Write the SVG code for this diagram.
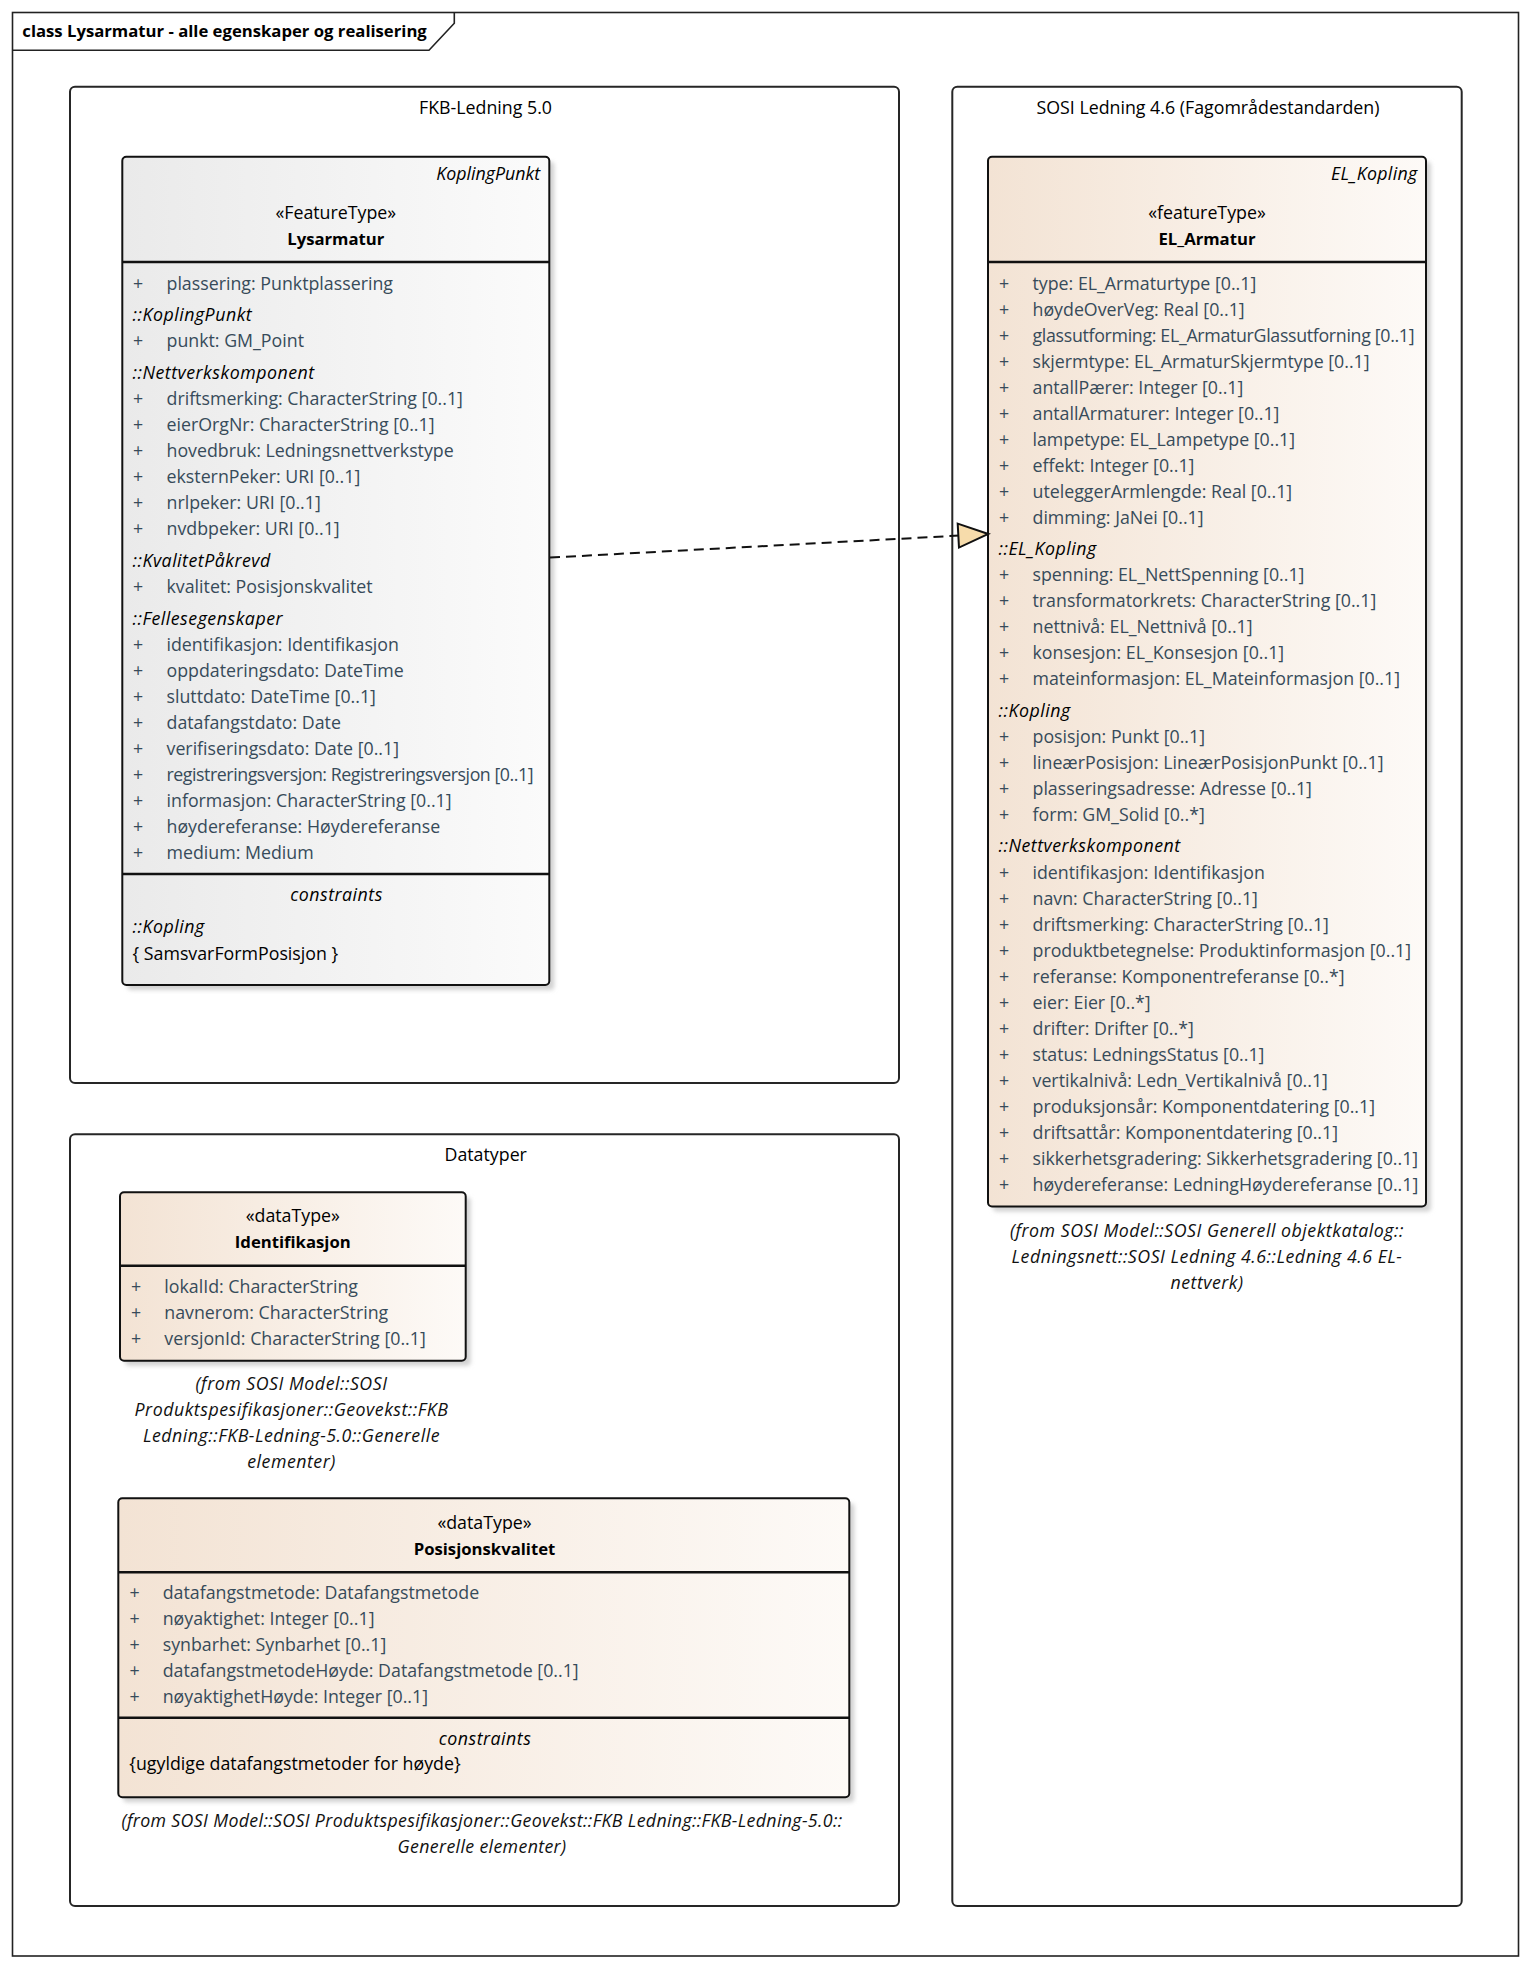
<svg xmlns="http://www.w3.org/2000/svg" width="1532" height="1968" viewBox="0 0 1532 1968">
<defs>
<style>
text{font-family:"Open Sans","Noto Sans","DejaVu Sans",sans-serif;font-size:17.8px;fill:#000}
.b{font-weight:bold;font-size:16.7px}
.a{fill:#374b5a}
.i{font-style:italic;letter-spacing:0.5px}
.c{text-anchor:middle}
.r{text-anchor:end}
.n{fill:#111}
.frame{fill:#fff;stroke:#222;stroke-width:1.6}
.pkg{fill:#fff;stroke:#262626;stroke-width:2}
.cls{stroke:#111;stroke-width:2}
.sep{stroke:#111;stroke-width:2.4}
.sh{fill:#d2d2d2;filter:url(#blur)}
.conn{fill:none;stroke:#111;stroke-width:2;stroke-dasharray:10,6}
</style>
<linearGradient id="gGray" x1="0" x2="1" y1="0" y2="0"><stop offset="0" stop-color="#eaeaea"/><stop offset="1" stop-color="#fbfbfb"/></linearGradient>
<linearGradient id="gBeige" x1="0" x2="1" y1="0" y2="0"><stop offset="0" stop-color="#f3e3d4"/><stop offset="1" stop-color="#fdfaf7"/></linearGradient>
<filter id="blur" x="-5%" y="-5%" width="110%" height="110%"><feGaussianBlur stdDeviation="2"/></filter>
<marker id="real" markerUnits="userSpaceOnUse" markerWidth="40" markerHeight="40" refX="30" refY="12" orient="auto" overflow="visible">
<path d="M0,0 L30,12 L0,24 Z" fill="#f7dcab" stroke="#111" stroke-width="2" stroke-dasharray="none"/>
</marker>
</defs>

<g id="frame">
<rect class="frame" x="12.5" y="12.5" width="1506" height="1943.5"/>
<path d="M12.5,50.3 L429,50.3 L454.3,23.3 L454.3,12.5" fill="none" stroke="#222" stroke-width="1.6"/>
<text class="b" x="22.3" y="36.7">class Lysarmatur - alle egenskaper og realisering</text>
</g>

<g id="pkg-fkb">
<rect class="pkg" x="70" y="86.7" width="829" height="996.3" rx="5"/>
<text class="c" x="485.5" y="113.5">FKB-Ledning 5.0</text>
</g>

<g id="pkg-sosi">
<rect class="pkg" x="952.3" y="86.7" width="509.4" height="1819.3" rx="5"/>
<text class="c" x="1208" y="113.5">SOSI Ledning 4.6 (Fagområdestandarden)</text>
</g>

<g id="pkg-datatyper">
<rect class="pkg" x="70" y="1134.3" width="829" height="771.7" rx="5"/>
<text class="c" x="485.7" y="1161">Datatyper</text>
</g>

<g id="Lysarmatur">
<rect class="sh" x="127.3" y="161.7" width="427" height="828.3" rx="4"/>
<rect class="cls" fill="url(#gGray)" x="122.3" y="156.7" width="427" height="828.3" rx="4"/>
<line class="sep" x1="122.3" y1="262" x2="549.3" y2="262"/>
<line class="sep" x1="122.3" y1="874" x2="549.3" y2="874"/>
<text class="i r" x="540" y="180" style="letter-spacing:0">KoplingPunkt</text>
<text class="c" x="335.8" y="218.5">«FeatureType»</text>
<text class="c b" x="335.8" y="245">Lysarmatur</text>
<text y="289.5"><tspan class="a" x="133">+</tspan><tspan class="a" x="166.5">plassering: Punktplassering</tspan></text>
<text class="i" x="132.5" y="321">::KoplingPunkt</text>
<text y="347"><tspan class="a" x="133">+</tspan><tspan class="a" x="166.5">punkt: GM_Point</tspan></text>
<text class="i" x="132.5" y="378.5">::Nettverkskomponent</text>
<text y="404.5"><tspan class="a" x="133">+</tspan><tspan class="a" x="166.5">driftsmerking: CharacterString [0..1]</tspan></text>
<text y="430.5"><tspan class="a" x="133">+</tspan><tspan class="a" x="166.5">eierOrgNr: CharacterString [0..1]</tspan></text>
<text y="456.5"><tspan class="a" x="133">+</tspan><tspan class="a" x="166.5">hovedbruk: Ledningsnettverkstype</tspan></text>
<text y="482.5"><tspan class="a" x="133">+</tspan><tspan class="a" x="166.5">eksternPeker: URI [0..1]</tspan></text>
<text y="508.5"><tspan class="a" x="133">+</tspan><tspan class="a" x="166.5">nrlpeker: URI [0..1]</tspan></text>
<text y="534.5"><tspan class="a" x="133">+</tspan><tspan class="a" x="166.5">nvdbpeker: URI [0..1]</tspan></text>
<text class="i" x="132.5" y="566.5">::KvalitetPåkrevd</text>
<text y="592.5"><tspan class="a" x="133">+</tspan><tspan class="a" x="166.5">kvalitet: Posisjonskvalitet</tspan></text>
<text class="i" x="132.5" y="624.5">::Fellesegenskaper</text>
<text y="650.5"><tspan class="a" x="133">+</tspan><tspan class="a" x="166.5">identifikasjon: Identifikasjon</tspan></text>
<text y="676.5"><tspan class="a" x="133">+</tspan><tspan class="a" x="166.5">oppdateringsdato: DateTime</tspan></text>
<text y="702.5"><tspan class="a" x="133">+</tspan><tspan class="a" x="166.5">sluttdato: DateTime [0..1]</tspan></text>
<text y="728.5"><tspan class="a" x="133">+</tspan><tspan class="a" x="166.5">datafangstdato: Date</tspan></text>
<text y="754.5"><tspan class="a" x="133">+</tspan><tspan class="a" x="166.5">verifiseringsdato: Date [0..1]</tspan></text>
<text y="780.5"><tspan class="a" x="133">+</tspan><tspan class="a" x="166.5" textLength="367" lengthAdjust="spacing">registreringsversjon: Registreringsversjon [0..1]</tspan></text>
<text y="806.5"><tspan class="a" x="133">+</tspan><tspan class="a" x="166.5">informasjon: CharacterString [0..1]</tspan></text>
<text y="832.5"><tspan class="a" x="133">+</tspan><tspan class="a" x="166.5">høydereferanse: Høydereferanse</tspan></text>
<text y="858.5"><tspan class="a" x="133">+</tspan><tspan class="a" x="166.5">medium: Medium</tspan></text>
<text class="i c" x="336.5" y="901">constraints</text>
<text class="i" x="132.5" y="933">::Kopling</text>
<text x="132.5" y="959.5">{ SamsvarFormPosisjon }</text>
</g>

<g id="EL_Armatur">
<rect class="sh" x="993" y="161.7" width="438" height="1049.8" rx="4"/>
<rect class="cls" fill="url(#gBeige)" x="988" y="156.7" width="438" height="1049.8" rx="4"/>
<line class="sep" x1="988" y1="262" x2="1426" y2="262"/>
<text class="i r" x="1417.5" y="180" style="letter-spacing:0.3px">EL_Kopling</text>
<text class="c" x="1207" y="218.5">«featureType»</text>
<text class="c b" x="1207" y="245">EL_Armatur</text>
<text y="289.5"><tspan class="a" x="999">+</tspan><tspan class="a" x="1032.5">type: EL_Armaturtype [0..1]</tspan></text>
<text y="315.5"><tspan class="a" x="999">+</tspan><tspan class="a" x="1032.5">høydeOverVeg: Real [0..1]</tspan></text>
<text y="341.5"><tspan class="a" x="999">+</tspan><tspan class="a" x="1032.5" textLength="382" lengthAdjust="spacing">glassutforming: EL_ArmaturGlassutforning [0..1]</tspan></text>
<text y="367.5"><tspan class="a" x="999">+</tspan><tspan class="a" x="1032.5">skjermtype: EL_ArmaturSkjermtype [0..1]</tspan></text>
<text y="393.5"><tspan class="a" x="999">+</tspan><tspan class="a" x="1032.5">antallPærer: Integer [0..1]</tspan></text>
<text y="419.5"><tspan class="a" x="999">+</tspan><tspan class="a" x="1032.5">antallArmaturer: Integer [0..1]</tspan></text>
<text y="445.5"><tspan class="a" x="999">+</tspan><tspan class="a" x="1032.5">lampetype: EL_Lampetype [0..1]</tspan></text>
<text y="471.5"><tspan class="a" x="999">+</tspan><tspan class="a" x="1032.5">effekt: Integer [0..1]</tspan></text>
<text y="497.5"><tspan class="a" x="999">+</tspan><tspan class="a" x="1032.5">uteleggerArmlengde: Real [0..1]</tspan></text>
<text y="523.5"><tspan class="a" x="999">+</tspan><tspan class="a" x="1032.5">dimming: JaNei [0..1]</tspan></text>
<text class="i" x="998.5" y="555">::EL_Kopling</text>
<text y="581"><tspan class="a" x="999">+</tspan><tspan class="a" x="1032.5">spenning: EL_NettSpenning [0..1]</tspan></text>
<text y="607"><tspan class="a" x="999">+</tspan><tspan class="a" x="1032.5">transformatorkrets: CharacterString [0..1]</tspan></text>
<text y="633"><tspan class="a" x="999">+</tspan><tspan class="a" x="1032.5">nettnivå: EL_Nettnivå [0..1]</tspan></text>
<text y="659"><tspan class="a" x="999">+</tspan><tspan class="a" x="1032.5">konsesjon: EL_Konsesjon [0..1]</tspan></text>
<text y="685"><tspan class="a" x="999">+</tspan><tspan class="a" x="1032.5">mateinformasjon: EL_Mateinformasjon [0..1]</tspan></text>
<text class="i" x="998.5" y="716.5">::Kopling</text>
<text y="742.5"><tspan class="a" x="999">+</tspan><tspan class="a" x="1032.5">posisjon: Punkt [0..1]</tspan></text>
<text y="768.5"><tspan class="a" x="999">+</tspan><tspan class="a" x="1032.5">lineærPosisjon: LineærPosisjonPunkt [0..1]</tspan></text>
<text y="794.5"><tspan class="a" x="999">+</tspan><tspan class="a" x="1032.5">plasseringsadresse: Adresse [0..1]</tspan></text>
<text y="820.5"><tspan class="a" x="999">+</tspan><tspan class="a" x="1032.5">form: GM_Solid [0..*]</tspan></text>
<text class="i" x="998.5" y="852">::Nettverkskomponent</text>
<text y="878.5"><tspan class="a" x="999">+</tspan><tspan class="a" x="1032.5">identifikasjon: Identifikasjon</tspan></text>
<text y="904.5"><tspan class="a" x="999">+</tspan><tspan class="a" x="1032.5">navn: CharacterString [0..1]</tspan></text>
<text y="930.5"><tspan class="a" x="999">+</tspan><tspan class="a" x="1032.5">driftsmerking: CharacterString [0..1]</tspan></text>
<text y="956.5"><tspan class="a" x="999">+</tspan><tspan class="a" x="1032.5">produktbetegnelse: Produktinformasjon [0..1]</tspan></text>
<text y="982.5"><tspan class="a" x="999">+</tspan><tspan class="a" x="1032.5">referanse: Komponentreferanse [0..*]</tspan></text>
<text y="1008.5"><tspan class="a" x="999">+</tspan><tspan class="a" x="1032.5">eier: Eier [0..*]</tspan></text>
<text y="1034.5"><tspan class="a" x="999">+</tspan><tspan class="a" x="1032.5">drifter: Drifter [0..*]</tspan></text>
<text y="1060.5"><tspan class="a" x="999">+</tspan><tspan class="a" x="1032.5">status: LedningsStatus [0..1]</tspan></text>
<text y="1086.5"><tspan class="a" x="999">+</tspan><tspan class="a" x="1032.5">vertikalnivå: Ledn_Vertikalnivå [0..1]</tspan></text>
<text y="1112.5"><tspan class="a" x="999">+</tspan><tspan class="a" x="1032.5">produksjonsår: Komponentdatering [0..1]</tspan></text>
<text y="1138.5"><tspan class="a" x="999">+</tspan><tspan class="a" x="1032.5">driftsattår: Komponentdatering [0..1]</tspan></text>
<text y="1164.5"><tspan class="a" x="999">+</tspan><tspan class="a" x="1032.5">sikkerhetsgradering: Sikkerhetsgradering [0..1]</tspan></text>
<text y="1190.5"><tspan class="a" x="999">+</tspan><tspan class="a" x="1032.5">høydereferanse: LedningHøydereferanse [0..1]</tspan></text>
<text class="i c n" x="1207" y="1237">(from SOSI Model::SOSI Generell objektkatalog::</text>
<text class="i c n" x="1207" y="1263">Ledningsnett::SOSI Ledning 4.6::Ledning 4.6 EL-</text>
<text class="i c n" x="1207" y="1289">nettverk)</text>
</g>

<g id="Identifikasjon">
<rect class="sh" x="125" y="1197.3" width="345.7" height="168.4" rx="4"/>
<rect class="cls" fill="url(#gBeige)" x="120" y="1192.3" width="345.7" height="168.4" rx="4"/>
<line class="sep" x1="120" y1="1265.7" x2="465.7" y2="1265.7"/>
<text class="c" x="292.8" y="1222">«dataType»</text>
<text class="c b" x="292.8" y="1248">Identifikasjon</text>
<text y="1292.5"><tspan class="a" x="131">+</tspan><tspan class="a" x="164.3">lokalId: CharacterString</tspan></text>
<text y="1318.5"><tspan class="a" x="131">+</tspan><tspan class="a" x="164.3">navnerom: CharacterString</tspan></text>
<text y="1344.5"><tspan class="a" x="131">+</tspan><tspan class="a" x="164.3">versjonId: CharacterString [0..1]</tspan></text>
<text class="i c n" x="291.5" y="1390">(from SOSI Model::SOSI</text>
<text class="i c n" x="291.5" y="1416">Produktspesifikasjoner::Geovekst::FKB</text>
<text class="i c n" x="291.5" y="1442">Ledning::FKB-Ledning-5.0::Generelle</text>
<text class="i c n" x="291.5" y="1468">elementer)</text>
</g>

<g id="Posisjonskvalitet">
<rect class="sh" x="123.3" y="1503.3" width="731" height="299" rx="4"/>
<rect class="cls" fill="url(#gBeige)" x="118.3" y="1498.3" width="731" height="299" rx="4"/>
<line class="sep" x1="118.3" y1="1572.3" x2="849.3" y2="1572.3"/>
<line class="sep" x1="118.3" y1="1717.7" x2="849.3" y2="1717.7"/>
<text class="c" x="484.5" y="1528.5">«dataType»</text>
<text class="c b" x="484.5" y="1554.5">Posisjonskvalitet</text>
<text y="1598.5"><tspan class="a" x="129.5">+</tspan><tspan class="a" x="162.7">datafangstmetode: Datafangstmetode</tspan></text>
<text y="1624.5"><tspan class="a" x="129.5">+</tspan><tspan class="a" x="162.7">nøyaktighet: Integer [0..1]</tspan></text>
<text y="1650.5"><tspan class="a" x="129.5">+</tspan><tspan class="a" x="162.7">synbarhet: Synbarhet [0..1]</tspan></text>
<text y="1676.5"><tspan class="a" x="129.5">+</tspan><tspan class="a" x="162.7">datafangstmetodeHøyde: Datafangstmetode [0..1]</tspan></text>
<text y="1702.5"><tspan class="a" x="129.5">+</tspan><tspan class="a" x="162.7">nøyaktighetHøyde: Integer [0..1]</tspan></text>
<text class="i c" x="485" y="1744.5">constraints</text>
<text x="129.3" y="1770">{ugyldige datafangstmetoder for høyde}</text>
<text class="i c n" x="482" y="1826.7" style="letter-spacing:0.34px">(from SOSI Model::SOSI Produktspesifikasjoner::Geovekst::FKB Ledning::FKB-Ledning-5.0::</text>
<text class="i c n" x="482" y="1852.5" style="letter-spacing:0.34px">Generelle elementer)</text>
</g>

<g id="connectors">
<path id="realization" class="conn" d="M550,557.6 L988.3,534" marker-end="url(#real)"/>
</g>
</svg>
